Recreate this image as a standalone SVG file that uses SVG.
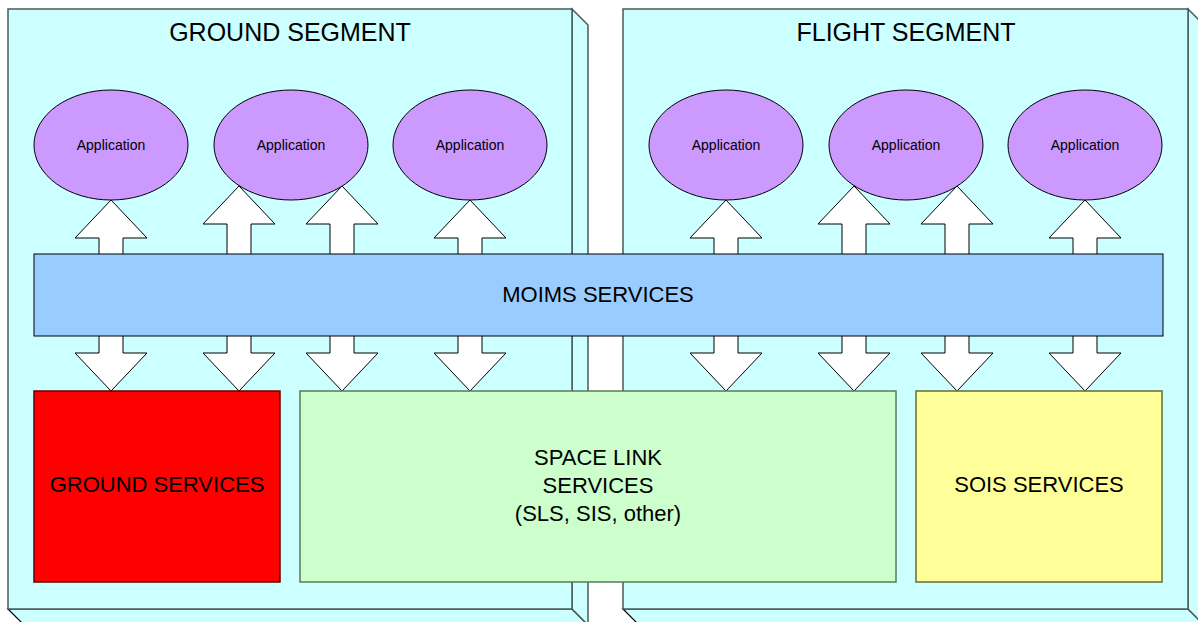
<svg xmlns="http://www.w3.org/2000/svg" width="1198" height="622" viewBox="0 0 1198 622">
  <style>
    .seg { fill: #CCFFFF; stroke: #4A5A5A; stroke-width: 1.5; stroke-linejoin: miter; }
    .seg-bottom { fill: #CCFFFF; stroke: #000; stroke-width: 1.2; }
    .app { fill: #CC99FF; stroke: #000; stroke-width: 1; }
    .arrow { fill: #FFFFFF; stroke: #000; stroke-width: 1; stroke-linejoin: miter; }
    .lbl { font-family: "Liberation Sans", Arial, sans-serif; fill: #000; text-anchor: middle; }
    .title { font-size: 25px; }
    .big { font-size: 22px; }
    .small { font-size: 14px; }
  </style>

  <rect x="0" y="0" width="1198" height="622" fill="#FFFFFF"/>

  <!-- Ground segment block (3D box) -->
  <g id="ground-segment">
    <polygon class="seg-bottom" points="8,609 572,609 588,625 24,625"/>
    <polygon class="seg" points="572,9 588,25 588,625 572,609"/>
    <rect class="seg" x="8" y="9" width="564" height="600"/>
    <text class="lbl title" x="290" y="41">GROUND SEGMENT</text>
  </g>

  <!-- Flight segment block (3D box) -->
  <g id="flight-segment">
    <polygon class="seg-bottom" points="623,609 1188,609 1204,625 639,625"/>
    <polygon class="seg" points="1188,9 1204,25 1204,625 1188,609"/>
    <rect class="seg" x="623" y="9" width="565" height="600"/>
    <text class="lbl title" x="906" y="41">FLIGHT SEGMENT</text>
  </g>

  <!-- Applications -->
  <g id="app-g1"><ellipse class="app" cx="111" cy="145" rx="77" ry="55"/><text class="lbl small" x="111" y="150">Application</text></g>
  <g id="app-g2"><ellipse class="app" cx="291" cy="145" rx="77" ry="55"/><text class="lbl small" x="291" y="150">Application</text></g>
  <g id="app-g3"><ellipse class="app" cx="470" cy="145" rx="77" ry="55"/><text class="lbl small" x="470" y="150">Application</text></g>
  <g id="app-f1"><ellipse class="app" cx="726" cy="145" rx="77" ry="55"/><text class="lbl small" x="726" y="150">Application</text></g>
  <g id="app-f2"><ellipse class="app" cx="906" cy="145" rx="77" ry="55"/><text class="lbl small" x="906" y="150">Application</text></g>
  <g id="app-f3"><ellipse class="app" cx="1085" cy="145" rx="77" ry="55"/><text class="lbl small" x="1085" y="150">Application</text></g>

  <!-- Block arrows between layers -->
  <g id="connectors">
    <!-- upward: MOIMS to applications -->
    <path class="arrow" d="M99,255 V238 H75 L111,200 L147,238 H123 V255 Z"/>
    <path class="arrow" d="M227,255 V224 H203 L239,186 L275,224 H251 V255 Z"/>
    <path class="arrow" d="M330,255 V224 H306 L342,186 L378,224 H354 V255 Z"/>
    <path class="arrow" d="M458,255 V238 H434 L470,200 L506,238 H482 V255 Z"/>
    <path class="arrow" d="M714,255 V238 H690 L726,200 L762,238 H738 V255 Z"/>
    <path class="arrow" d="M842,255 V224 H818 L854,186 L890,224 H866 V255 Z"/>
    <path class="arrow" d="M945,255 V224 H921 L957,186 L993,224 H969 V255 Z"/>
    <path class="arrow" d="M1073,255 V238 H1049 L1085,200 L1121,238 H1097 V255 Z"/>
    <!-- downward: MOIMS to lower services -->
    <path class="arrow" d="M99,335 V353 H75 L111,391 L147,353 H123 V335 Z"/>
    <path class="arrow" d="M227,335 V353 H203 L239,391 L275,353 H251 V335 Z"/>
    <path class="arrow" d="M330,335 V353 H306 L342,391 L378,353 H354 V335 Z"/>
    <path class="arrow" d="M458,335 V353 H434 L470,391 L506,353 H482 V335 Z"/>
    <path class="arrow" d="M714,335 V353 H690 L726,391 L762,353 H738 V335 Z"/>
    <path class="arrow" d="M842,335 V353 H818 L854,391 L890,353 H866 V335 Z"/>
    <path class="arrow" d="M945,335 V353 H921 L957,391 L993,353 H969 V335 Z"/>
    <path class="arrow" d="M1073,335 V353 H1049 L1085,391 L1121,353 H1097 V335 Z"/>
  </g>

  <!-- MOIMS services band -->
  <g id="moims">
    <rect x="34" y="254" width="1129" height="82" fill="#99CCFF" stroke="#000" stroke-width="1"/>
    <text class="lbl big" x="598" y="302">MOIMS SERVICES</text>
  </g>

  <!-- Lower service layers -->
  <g id="ground-services">
    <rect x="34" y="391" width="246" height="191" fill="#FF0000" stroke="#660000" stroke-width="1.5"/>
    <text class="lbl big" x="157" y="492">GROUND SERVICES</text>
  </g>
  <g id="space-link-services">
    <rect x="300" y="391" width="596" height="191" fill="#CCFFCC" stroke="#5A7A5A" stroke-width="1.5"/>
    <text class="lbl big" x="598" y="465">SPACE LINK</text>
    <text class="lbl big" x="598" y="493">SERVICES</text>
    <text class="lbl big" x="598" y="521">(SLS, SIS, other)</text>
  </g>
  <g id="sois-services">
    <rect x="916" y="391" width="246" height="191" fill="#FFFF99" stroke="#6A6A30" stroke-width="1.5"/>
    <text class="lbl big" x="1039" y="492">SOIS SERVICES</text>
  </g>
</svg>
